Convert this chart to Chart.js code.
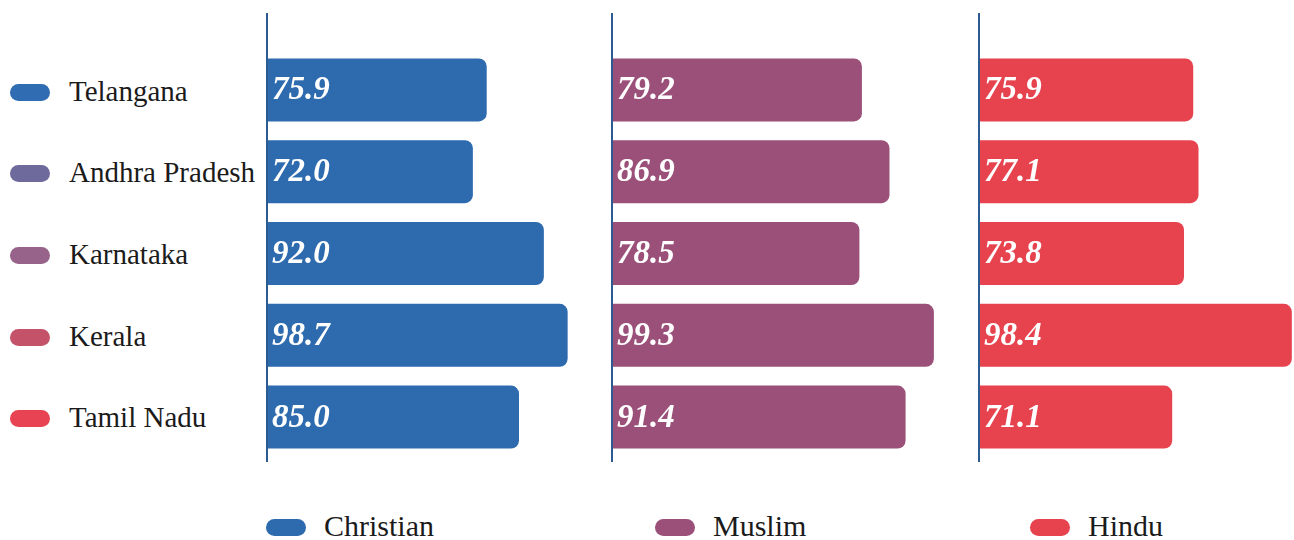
<!DOCTYPE html>
<html>
<head>
<meta charset="utf-8">
<script src="https://cdn.jsdelivr.net/npm/chart.js@4.4.1/dist/chart.umd.min.js"></script>
<style>
  body { margin: 0; background: #fff; }
  #wrap { position: relative; width: 1294px; height: 540px; overflow: hidden; font-family: "Liberation Serif", "DejaVu Serif", Times, serif; color: #1b1b1b; }
  canvas { position: absolute; }
  .pill { position: absolute; width: 40px; height: 17px; border-radius: 9px; }
  .lbl { position: absolute; font-size: 29px; line-height: 29px; white-space: nowrap; }
  .lbl.bottom { font-size: 30px; line-height: 30px; }
</style>
</head>
<body>
<div id="wrap">
  <canvas id="c-christian" width="325" height="449" style="left:265px; top:13px;"></canvas>
  <canvas id="c-muslim" width="345" height="449" style="left:610px; top:13px;"></canvas>
  <canvas id="c-hindu" width="317" height="449" style="left:977px; top:13px;"></canvas>
</div>
<script>
// state names and literacy figures per community
const states = ['Telangana', 'Andhra Pradesh', 'Karnataka', 'Kerala', 'Tamil Nadu'];
const stateColors = ['#2f6cb1', '#6f6a9c', '#97638a', '#c4536a', '#e84352'];

const christian = [75.9, 72.0, 92.0, 98.7, 85.0];
const muslim = [79.2, 86.9, 78.5, 99.3, 91.4];
const hindu = [75.9, 77.1, 73.8, 98.4, 71.1];

const groups = ['Christian', 'Muslim', 'Hindu'];
const groupColors = ['#2d6aae', '#9a5079', '#e6434f'];

const SERIF = '"Liberation Serif", "DejaVu Serif", Times, serif';
const wrap = document.getElementById('wrap');

// left legend: states
states.forEach((s, i) => {
    const cy = 92 + i * 81.7;
    const p = document.createElement('div');
    p.className = 'pill';
    p.style.left = '10px';
    p.style.top = (cy - 8.5) + 'px';
    p.style.background = stateColors[i];
    wrap.appendChild(p);
    const t = document.createElement('div');
    t.className = 'lbl';
    t.style.left = '69px';
    t.style.top = (cy - 15.5) + 'px';
    t.textContent = s;
    wrap.appendChild(t);
});

// bottom legend: communities
const legendX = [266, 655, 1030];
groups.forEach((g, i) => {
    const p = document.createElement('div');
    p.className = 'pill';
    p.style.left = legendX[i] + 'px';
    p.style.top = '519px';
    p.style.background = groupColors[i];
    wrap.appendChild(p);
    const t = document.createElement('div');
    t.className = 'lbl bottom';
    t.style.left = (legendX[i] + 58) + 'px';
    t.style.top = '511px';
    t.textContent = g;
    wrap.appendChild(t);
});

// vertical axis line running past the bars, plus values inside each bar
const panelDecor = {
    id: 'panelDecor',
    afterDatasetsDraw(chart) {
        const ctx = chart.ctx;
        const meta = chart.getDatasetMeta(0);
        const values = chart.data.datasets[0].data;
        ctx.save();
        ctx.fillStyle = '#ffffff';
        ctx.font = 'italic bold 33px ' + SERIF;
        ctx.textAlign = 'left';
        ctx.textBaseline = 'middle';
        meta.data.forEach((bar, i) => {
            ctx.fillText(values[i].toFixed(1), chart.chartArea.left + 5, bar.y + 1);
        });
        ctx.strokeStyle = '#2b5b90';
        ctx.lineWidth = 2;
        ctx.beginPath();
        ctx.moveTo(2, 0);
        ctx.lineTo(2, chart.height);
        ctx.stroke();
        ctx.restore();
    }
};

function makePanel(id, label, values, color, min, max) {
    new Chart(document.getElementById(id), {
        type: 'bar',
        data: {
            labels: states,
            datasets: [{
                label: label,
                data: values,
                backgroundColor: color,
                borderRadius: 8,
                borderSkipped: 'start',
                barPercentage: 0.77,
                categoryPercentage: 1
            }]
        },
        options: {
            indexAxis: 'y',
            responsive: false,
            animation: false,
            layout: { padding: { top: 36, bottom: 4, left: 2, right: 0 } },
            plugins: {
                legend: { display: false },
                tooltip: { enabled: false }
            },
            scales: {
                x: { display: false, min: min, max: max },
                y: { display: false }
            }
        },
        plugins: [panelDecor]
    });
}

makePanel('c-christian', groups[0], christian, groupColors[0], 14, 105);
makePanel('c-muslim', groups[1], muslim, groupColors[1], 9.4, 105.2);
makePanel('c-hindu', groups[2], hindu, groupColors[2], 27, 98.9);
</script>
</body>
</html>
